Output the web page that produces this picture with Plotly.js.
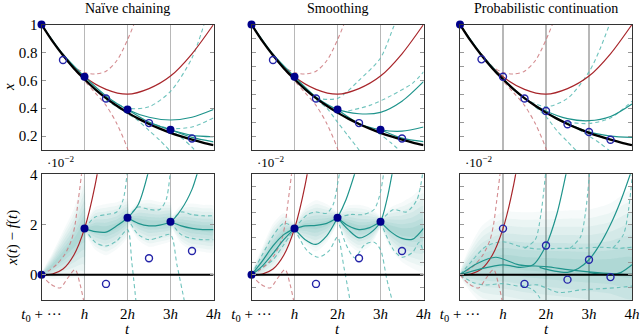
<!DOCTYPE html>
<html>
<head>
<meta charset="utf-8">
<script src="https://cdn.plot.ly/plotly-3.0.1.min.js"></script>
<style>
  body { margin: 0; background: #fff; }
  #chart { width: 640px; height: 336px; }
  #chart text { font-family: "Liberation Serif", "DejaVu Serif", serif !important; }
</style>
</head>
<body>
<div id="chart"></div>
<script>
// ---- data (t in units of h, errors in units of 1e-2) ----
var colTitles = ['Naïve chaining', 'Smoothing', 'Probabilistic continuation'];
var hTicks = [0, 1, 2, 3, 4];
var hLabels = ['<i>t</i><sub>0</sub> + ···', '<i>h</i>', '2<i>h</i>', '3<i>h</i>', '4<i>h</i>'];

var truthT = [0, 0.25, 0.5, 0.75, 1, 1.25, 1.5, 1.75, 2, 2.25, 2.5, 2.75, 3, 3.25, 3.5, 3.75, 4];
var truthX = [1, 0.882, 0.779, 0.687, 0.607, 0.535, 0.472, 0.417, 0.368, 0.325, 0.287, 0.253, 0.223, 0.197, 0.174, 0.153, 0.135];
var zeroT = [0, 4];
var zeroE = [0, 0];

// step points (naive + smoothing)
var stepT = [0, 1, 2, 3];
var dotX = [1, 0.625, 0.391, 0.245];
var dotErr = [0, 1.84, 2.27, 2.11];
var midT = [0.5, 1.5, 2.5, 3.5];
var circX = [0.745, 0.469, 0.293, 0.183];
var circErr = [-3.4, -0.36, 0.66, 0.95];

// probabilistic continuation points
var contT = [0.5, 1, 1.5, 2, 2.5, 3, 3.5];
var contX = [0.75, 0.625, 0.469, 0.38, 0.285, 0.229, 0.173];
var contErr = [-3.4, 1.84, -0.36, 1.17, -0.19, 0.6, -0.09];

// first step (shared by all columns)
var redTop = [[0, 1], [0.5, 0.781], [1, 0.625], [1.5, 0.535], [2, 0.5], [2.5, 0.54], [3, 0.63], [3.5, 0.79], [4, 1.0]];
var redUpTop = [[0.5, 0.79], [0.75, 0.70], [1, 0.655], [1.25, 0.645], [1.5, 0.665], [1.75, 0.74], [2, 0.89], [2.25, 1.08]];
var redLoTop = [[0.5, 0.775], [0.75, 0.685], [1, 0.595], [1.25, 0.51], [1.5, 0.42], [1.75, 0.29], [2, 0.11], [2.15, -0.05]];
var redErr = [[0, 0], [0.25, 0.03], [0.5, 0.23], [0.75, 0.78], [1, 1.84], [1.25, 3.6], [1.5, 6.2]];
var redUpErr = [[0, 0], [0.2, 0.2], [0.35, 0.41], [0.54, 0.81], [0.7, 1.4], [0.78, 2.0], [0.85, 2.9], [0.93, 4.0], [1.0, 5.2]];
var redLoErr = [[0, 0], [0.2, -0.35], [0.43, -0.52], [0.6, -0.15], [0.78, 0.21], [0.9, -0.4], [1.0, -1.2]];

// naive chaining
var naiveTealTop = [
  [[0, 1], [0.5, 0.787], [1, 0.625]],
  [[1, 0.625], [1.5, 0.488], [2, 0.391], [2.5, 0.335], [3, 0.315], [3.5, 0.335], [4, 0.39]],
  [[2, 0.391], [2.5, 0.30], [3, 0.245], [3.5, 0.205], [4, 0.195]],
  [[3, 0.245], [3.5, 0.19], [4, 0.158]]
];
var naiveDashTop = [
  [[1.5, 0.48], [2, 0.40], [2.5, 0.41], [3, 0.52], [3.5, 0.76], [3.8, 1.02]],
  [[1.5, 0.46], [1.75, 0.41], [2, 0.36], [2.25, 0.31], [2.5, 0.24], [2.75, 0.17], [3, 0.09]],
  [[2.5, 0.295], [3, 0.255], [3.5, 0.265], [4, 0.33]],
  [[2.5, 0.285], [2.75, 0.27], [3, 0.24], [3.25, 0.19], [3.5, 0.12], [3.65, 0.07]]
];
var naiveTealErr = [
  [[1, 1.84], [1.25, 1.72], [1.5, 1.7], [1.75, 1.95], [2, 2.27], [2.25, 2.8], [2.5, 4.2], [2.65, 5.5]],
  [[2, 2.27], [2.25, 2.05], [2.5, 1.95], [2.75, 1.98], [3, 2.11], [3.25, 2.6], [3.5, 3.4], [3.65, 4.2], [3.8, 5.2]],
  [[3, 2.11], [3.25, 1.95], [3.5, 1.85], [3.75, 1.8], [4, 1.8]]
];
var naiveDashErr = [
  [[1, 1.84], [1.25, 2.3], [1.5, 2.4], [1.75, 2.5], [1.9, 3.0], [2, 4.2]],
  [[1, 1.84], [1.25, 1.3], [1.5, 1.15], [1.75, 1.35], [2, 1.8], [2.1, 0.5], [2.2, -1.1]],
  [[2, 2.27], [2.25, 2.7], [2.5, 2.6], [2.75, 2.6], [2.9, 3.0], [3, 4.2]],
  [[2, 2.27], [2.25, 1.6], [2.5, 1.4], [2.75, 1.5], [3, 1.6], [3.15, 0.4], [3.33, -1.1]],
  [[3, 2.11], [3.25, 2.5], [3.5, 2.4], [3.75, 2.35], [4, 2.35]],
  [[3, 2.11], [3.25, 1.6], [3.5, 1.45], [3.75, 1.4], [4, 1.4]]
];
// [t, centre, half width]
var naiveBands = [
  [[0, 0, 0], [0.25, 0.35, 0.3], [0.5, 0.8, 0.55], [0.75, 1.25, 0.8], [0.95, 1.75, 1.1], [1, 1.84, 1.2]],
  [[1, 1.84, 0.1], [1.25, 1.85, 0.5], [1.5, 1.8, 0.6], [1.75, 1.95, 0.55], [2, 2.27, 0.45]],
  [[2, 2.27, 0.1], [2.25, 2.15, 0.45], [2.5, 2.05, 0.55], [2.75, 2.05, 0.5], [3, 2.11, 0.45]],
  [[3, 2.11, 0.1], [3.25, 2.0, 0.45], [3.5, 1.9, 0.55], [3.75, 1.85, 0.55], [4, 1.82, 0.55]]
];

// smoothing
var smoothTealTop = [
  [[0, 1], [0.5, 0.787], [1, 0.625]],
  [[1, 0.625], [1.5, 0.48], [2, 0.391], [2.5, 0.36], [3, 0.37], [3.5, 0.45], [4, 0.59]],
  [[2, 0.391], [2.5, 0.29], [3, 0.245], [3.5, 0.235], [4, 0.265]],
  [[3, 0.245], [3.5, 0.185], [4, 0.16]]
];
var smoothDashTop = [
  [[1.5, 0.47], [2, 0.47], [2.5, 0.6], [3, 0.76], [3.3, 0.98], [3.4, 1.05]],
  [[2.25, 0.38], [2.75, 0.42], [3.25, 0.49], [3.75, 0.58], [4, 0.66]],
  [[1.5, 0.46], [1.75, 0.4], [2, 0.3], [2.25, 0.2], [2.5, 0.1], [2.6, 0.05]],
  [[2.5, 0.28], [2.75, 0.26], [3, 0.21], [3.25, 0.15], [3.5, 0.08]]
];
var smoothTealErr = [
  [[0, 0], [0.25, 0.55], [0.5, 1.15], [0.75, 1.6], [1, 1.84]],
  [[0, 0], [0.25, 0.35], [0.5, 0.85], [0.75, 1.4], [1, 1.84]],
  [[1, 1.84], [1.25, 1.4], [1.5, 1.21], [1.75, 1.55], [2, 2.27], [2.2, 3.0], [2.45, 4.3]],
  [[1, 1.84], [1.25, 1.95], [1.5, 1.97], [1.75, 2.05], [2, 2.27]],
  [[2, 2.27], [2.25, 1.8], [2.5, 1.47], [2.75, 1.65], [3, 2.11], [3.15, 3.0], [3.3, 4.3]],
  [[2, 2.27], [2.25, 1.95], [2.5, 1.8], [2.75, 1.88], [3, 2.11]],
  [[3, 2.11], [3.25, 1.7], [3.5, 1.45], [3.75, 1.42], [4, 1.85]]
];
var smoothDashErr = [
  [[0, 0], [0.25, 0.3], [0.5, 0.6], [0.75, 1.2], [1, 1.84]],
  [[0, 0], [0.25, 0.8], [0.5, 1.55], [0.75, 2.05], [1, 1.9]],
  [[1, 1.84], [1.3, 0.95], [1.55, 0.7], [1.8, 0.95], [2, 1.5], [2.15, 0.3], [2.3, -1.1]],
  [[1, 1.84], [1.3, 2.4], [1.5, 2.5], [1.75, 2.45], [1.9, 2.8], [2, 3.6], [2.1, 4.6]],
  [[2, 2.27], [2.2, 1.2], [2.4, 0.68], [2.63, 1.2], [2.85, 1.3], [3, 1.0], [3.15, -0.2], [3.3, -1.2]],
  [[2, 2.27], [2.3, 2.4], [2.6, 2.4], [2.85, 2.6], [3, 3.3], [3.1, 4.4]],
  [[3, 2.11], [3.3, 1.0], [3.5, 0.7], [3.75, 0.9], [3.9, 1.3], [4, 0.9]],
  [[3, 2.11], [3.3, 2.6], [3.6, 2.5], [3.85, 3.0], [4, 4.3]]
];
var smoothBands = [
  [[0, 0, 0], [0.25, 0.5, 0.35], [0.5, 1.1, 0.55], [0.75, 1.6, 0.5], [1, 1.84, 0.12]],
  [[1, 1.84, 0.12], [1.25, 1.95, 0.45], [1.5, 1.95, 0.6], [1.75, 2.05, 0.45], [2, 2.27, 0.12]],
  [[2, 2.27, 0.12], [2.25, 2.0, 0.45], [2.5, 1.85, 0.55], [2.75, 1.9, 0.45], [3, 2.11, 0.12]],
  [[3, 2.11, 0.12], [3.25, 1.85, 0.5], [3.5, 1.7, 0.7], [3.75, 1.7, 0.85], [4, 1.8, 1.0]]
];

// probabilistic continuation
var contTealTop = [
  [[0, 1], [0.5, 0.786], [1, 0.612]],
  [[1, 0.612], [1.5, 0.47], [2, 0.38], [2.5, 0.325], [3, 0.31], [3.5, 0.34], [4, 0.43]],
  [[2, 0.37], [2.5, 0.29], [3, 0.23], [3.5, 0.2], [4, 0.19]]
];
var contDashTop = [
  [[1.5, 0.47], [2, 0.41], [2.5, 0.47], [3, 0.66], [3.25, 0.82], [3.5, 1.02]],
  [[2.5, 0.3], [3, 0.29], [3.5, 0.33], [4, 0.45]],
  [[1.75, 0.41], [2, 0.34], [2.25, 0.24], [2.5, 0.16], [2.75, 0.08]],
  [[2.75, 0.25], [3, 0.2], [3.25, 0.15], [3.5, 0.09], [3.75, 0.03]]
];
var contTealErr = [
  [[0, 0], [0.4, 0.45], [0.83, 0.7], [1.37, 0.4], [2, 0.33], [2.55, 0.2], [3.33, 0.07], [4, 0]],
  [[0, 0], [0.5, 0.25], [1, 0.4], [1.4, 0.3], [1.7, 0.4], [2, 1.17], [2.25, 2.4], [2.5, 4.3]],
  [[1.85, 0.3], [2.2, 0.15], [2.5, 0.1], [2.75, 0.25], [3, 0.6], [3.25, 1.2], [3.5, 2.0], [3.75, 3.0], [4, 4.2]],
  [[3, 0.1], [3.25, 0.03], [3.5, 0.0], [3.75, 0.1], [4, 0.4]]
];
var contDashErr = [
  [[0, 0], [0.3, 0.6], [0.6, 1.13], [1, 1.32], [1.4, 1.13], [1.8, 1.03], [2.2, 1.05], [2.8, 1.06], [3.3, 1.1], [3.7, 1.06], [4, 1.1]],
  [[0, 0], [0.3, -0.3], [0.6, -0.4], [1, -0.35], [1.4, -0.45], [1.8, -0.4], [2.3, -0.7], [2.8, -0.6], [3.3, -0.55], [3.7, -0.5], [4, -0.45]],
  [[1.5, 1.05], [1.75, 1.4], [1.88, 2.4], [2.0, 4.2]],
  [[2.55, 1.05], [2.8, 1.5], [2.92, 2.5], [3.02, 4.2]],
  [[3.55, 1.05], [3.8, 1.6], [3.92, 2.6], [4.02, 4.2]],
  [[1.4, -0.4], [1.7, -0.6], [1.85, -0.9], [1.95, -1.3]]
];
var contBands = [
  [[0, 0, 0], [0.5, 0.4, 0.9], [1, 0.55, 1.15], [1.5, 0.45, 1.2], [2, 0.4, 1.25], [2.5, 0.35, 1.3], [3, 0.3, 1.35], [3.5, 0.3, 1.5], [4, 0.3, 1.8]]
];

// ---- styling ----
var RED = '#a8262b', RED_D = 'rgba(205,120,125,0.85)';
var TEAL = '#1f948c', TEAL_D = 'rgba(95,188,182,0.9)';
var NAVY = '#00008b', CIRC = '#2424a8';
var SERIF = 'Liberation Serif';

function ax(n) { return n > 1 ? String(n) : ''; }

function curve(n, pts, color, width, dash) {
  return {
    type: 'scatter', mode: 'lines', xaxis: 'x' + ax(n), yaxis: 'y' + ax(n),
    x: pts.map(function (p) { return p[0]; }),
    y: pts.map(function (p) { return p[1]; }),
    line: {color: color, width: width, dash: dash || 'solid', shape: 'spline', smoothing: 0.8},
    hoverinfo: 'skip'
  };
}

function band(n, pts, k, alpha) {
  var xs = [], ys = [];
  pts.forEach(function (p) { xs.push(p[0]); ys.push(p[1] + k * p[2]); });
  pts.slice().reverse().forEach(function (p) { xs.push(p[0]); ys.push(p[1] - k * p[2]); });
  return {
    type: 'scatter', mode: 'lines', xaxis: 'x' + ax(n), yaxis: 'y' + ax(n),
    x: xs, y: ys, fill: 'toself', fillcolor: 'rgba(35,150,143,' + alpha + ')',
    line: {width: 0, shape: 'spline', smoothing: 0.6}, hoverinfo: 'skip'
  };
}

function marks(n, ts, vs, open, lo, hi) {
  var xs = [], ys = [];
  ts.forEach(function (t, i) { if (vs[i] >= lo && vs[i] <= hi) { xs.push(t); ys.push(vs[i]); } });
  return {
    type: 'scatter', mode: 'markers', xaxis: 'x' + ax(n), yaxis: 'y' + ax(n),
    x: xs, y: ys, cliponaxis: false, hoverinfo: 'skip',
    marker: open ? {symbol: 'circle-open', size: 7, color: CIRC, line: {width: 1.4, color: CIRC}}
                 : {symbol: 'circle', size: 8, color: NAVY}
  };
}

var cols = [
  {tealTop: naiveTealTop, dashTop: naiveDashTop, tealErr: naiveTealErr, dashErr: naiveDashErr, bands: naiveBands,
   dT: stepT, dX: dotX, dE: dotErr, cT: midT, cX: circX, cE: circErr},
  {tealTop: smoothTealTop, dashTop: smoothDashTop, tealErr: smoothTealErr, dashErr: smoothDashErr, bands: smoothBands,
   dT: stepT, dX: dotX, dE: dotErr, cT: midT, cX: circX, cE: circErr},
  {tealTop: contTealTop, dashTop: contDashTop, tealErr: contTealErr, dashErr: contDashErr, bands: contBands,
   dT: [0], dX: [1], dE: [], cT: contT, cX: contX, cE: contErr}
];

var traces = [];
var layers = [[1.7, 0.045], [1.45, 0.05], [1.2, 0.055], [0.95, 0.06], [0.7, 0.065], [0.45, 0.07], [0.22, 0.08]];

cols.forEach(function (c, i) {
  var top = i + 1, bot = i + 4;
  // top row
  c.dashTop.forEach(function (p) { traces.push(curve(top, p, TEAL_D, 1.1, '4px,3px')); });
  traces.push(curve(top, redUpTop, RED_D, 1.1, '4px,3px'));
  traces.push(curve(top, redLoTop, RED_D, 1.1, '4px,3px'));
  traces.push(curve(top, redTop, RED, 1.2));
  c.tealTop.forEach(function (p) { traces.push(curve(top, p, TEAL, 1.2)); });
  traces.push(curve(top, truthT.map(function (t, j) { return [t, truthX[j]]; }), '#000', 2.3));
  traces.push(marks(top, c.cT, c.cX, true, 0.1, 1.0));
  traces.push(marks(top, c.dT, c.dX, false, 0.1, 1.0));

  // bottom row
  c.bands.forEach(function (b) {
    layers.forEach(function (l) { traces.push(band(bot, b, l[0], l[1])); });
  });
  c.dashErr.forEach(function (p) { traces.push(curve(bot, p, TEAL_D, 1.1, '4px,3px')); });
  traces.push(curve(bot, redUpErr, RED_D, 1.1, '4px,3px'));
  traces.push(curve(bot, redLoErr, RED_D, 1.1, '4px,3px'));
  traces.push(curve(bot, redErr, RED, 1.2));
  c.tealErr.forEach(function (p) { traces.push(curve(bot, p, TEAL, 1.2)); });
  traces.push(curve(bot, [[zeroT[0], zeroE[0]], [zeroT[1], zeroE[1]]], '#000', 2));
  traces.push(marks(bot, c.cT, c.cE, true, -1, 4));
  traces.push(marks(bot, c.dT, c.dE, false, -1, 4));
});

// ---- layout ----
var W = 640, H = 336;
var xDom = [[41.5, 213.5], [251.5, 423.5], [460, 632]];
var yTop = [1 - 150 / H, 1 - 24.5 / H];
var yBot = [1 - 300 / H, 1 - 174.3 / H];

var layout = {
  width: W, height: H, margin: {l: 0, r: 0, t: 0, b: 0},
  paper_bgcolor: '#fff', plot_bgcolor: '#fff', showlegend: false,
  font: {family: SERIF, size: 14, color: '#000'},
  annotations: []
};

for (var i = 0; i < 3; i++) {
  [0, 1].forEach(function (row) {
    var n = i + 1 + row * 3;
    layout['xaxis' + ax(n)] = {
      domain: [xDom[i][0] / W, xDom[i][1] / W], anchor: 'y' + ax(n), range: [0, 4],
      tickvals: hTicks, ticktext: hLabels, showticklabels: row === 1, ticks: '',
      showgrid: true, gridcolor: '#b8b8b8', gridwidth: 1.3, zeroline: false,
      showline: true, linecolor: '#333', linewidth: 1, mirror: true,
      tickfont: {family: SERIF, size: 15}
    };
    var y = {
      domain: row === 0 ? yTop : yBot, anchor: 'x' + ax(n),
      range: row === 0 ? [0.1, 1.0] : [-1, 4],
      showgrid: false, zeroline: false, showline: true, linecolor: '#333', linewidth: 1, mirror: 'allticks',
      ticks: 'inside', ticklen: 4, tickcolor: '#999', tickwidth: 1,
      tickfont: {family: SERIF, size: 15}
    };
    if (i === 0) {
      y.tickvals = row === 0 ? [0.2, 0.4, 0.6, 0.8, 1] : [0, 2, 4];
      y.showticklabels = true;
    } else {
      y.tick0 = 0; y.dtick = row === 0 ? 0.1 : 0.5;
      y.showticklabels = false;
    }
    layout['yaxis' + ax(n)] = y;
  });

  var cx = (xDom[i][0] + xDom[i][1]) / 2 / W;
  layout.annotations.push({text: colTitles[i], xref: 'paper', yref: 'paper', x: cx, y: 1 - 8 / H,
    xanchor: 'center', yanchor: 'middle', showarrow: false, font: {family: SERIF, size: 14}});
  layout.annotations.push({text: '<i>t</i>', xref: 'paper', yref: 'paper', x: cx, y: 1 - 329 / H,
    xanchor: 'center', yanchor: 'middle', showarrow: false, font: {family: SERIF, size: 15}});
  layout.annotations.push({text: '·10<sup>−2</sup>', xref: 'paper', yref: 'paper', x: (xDom[i][0] + 3) / W, y: 1 - 162 / H,
    xanchor: 'left', yanchor: 'middle', showarrow: false, font: {family: SERIF, size: 13}});
}

layout.annotations.push({text: '<i>x</i>', xref: 'paper', yref: 'paper', x: 9 / W, y: 1 - 87 / H,
  xanchor: 'center', yanchor: 'middle', textangle: -90, showarrow: false, font: {family: SERIF, size: 15}});
layout.annotations.push({text: '<i>x</i>(<i>t</i>) − <i>f</i>(<i>t</i>)', xref: 'paper', yref: 'paper', x: 12 / W, y: 1 - 238 / H,
  xanchor: 'center', yanchor: 'middle', textangle: -90, showarrow: false, font: {family: SERIF, size: 15}});

Plotly.newPlot('chart', traces, layout, {staticPlot: true, displayModeBar: false});
</script>
</body>
</html>
